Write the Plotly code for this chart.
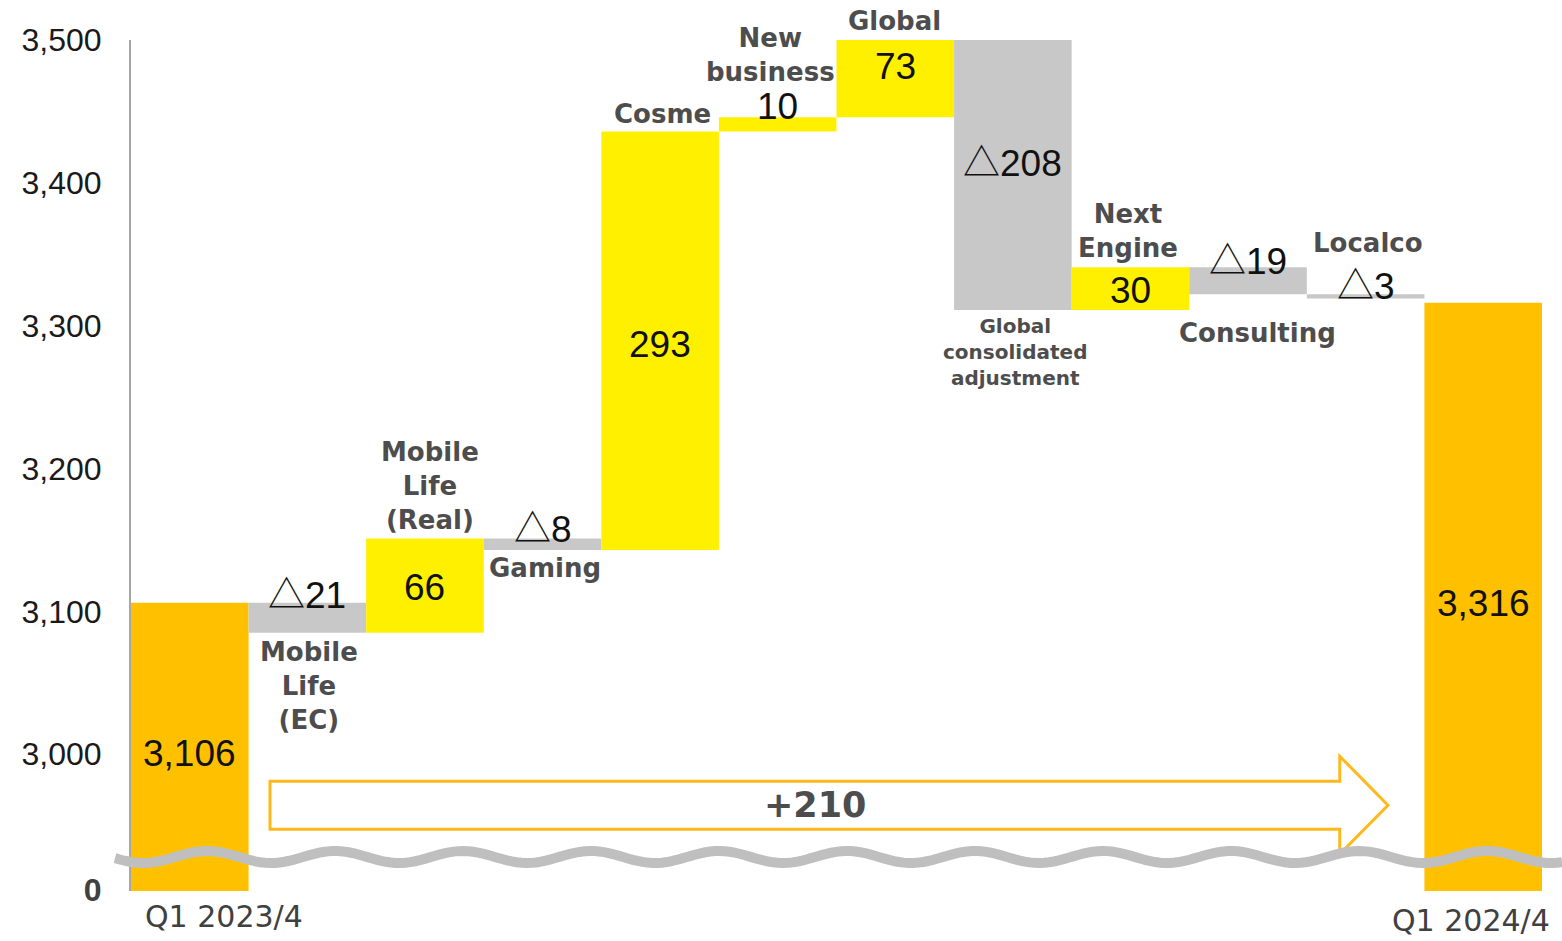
import numpy as np
import plotly.graph_objects as go

# ---------------- data ----------------
categories = ["Q1 2023/4", "Mobile Life (EC)", "Mobile Life (Real)", "Gaming", "Cosme",
              "New business", "Global", "Global consolidated adjustment", "Next Engine",
              "Consulting", "Localco", "Q1 2024/4"]
measures = ["absolute"] + ["relative"] * 10 + ["absolute"]
values = [3106, -21, 66, -8, 293, 10, 73, -208, 30, -19, -3, 3316]
value_labels = ["3,106", "△21", "66", "△8", "293", "10", "73", "△208", "30", "△19", "△3", "3,316"]
cat_labels = [None, "Mobile<br>Life<br>(EC)", "Mobile<br>Life<br>(Real)", "Gaming", "Cosme",
              "New<br>business", "Global", "Global<br>consolidated<br>adjustment",
              "Next<br>Engine", "Consulting", "Localco", None]
x_tick_labels = ["Q1 2023/4", "Q1 2024/4"]
y_tick_values = [3000, 3100, 3200, 3300, 3400, 3500]
y_tick_labels = ["3,000", "3,100", "3,200", "3,300", "3,400", "3,500"]
total_change_label = "+210"

# ---------------- style ----------------
Y_MAX = 3500
BREAK_BASE = 2905           # where the broken axis shows "0"
Y_MIN = 2904.3
C_UP, C_DOWN, C_TOTAL = "#FFF000", "#C8C8C8", "#FFC000"
TXT_GREY = "#4D4D4D"
NUM_FONT = dict(family="Liberation Sans, Arial", size=37, color="#111111")
CAT_FONT = dict(family="DejaVu Sans", size=26, color=TXT_GREY)
TRI = '<span style="font-family:Noto Sans CJK JP">△</span>'
value_pos = ["inside", "above", "inside", "above", "inside", "above", "inside", "inside",
             "inside", "above", "above", "inside"]
value_shift = [-7, 11, -2, 13, -4, 11, 12, 15, -2, 9, 11, -7]
cat_pos = [None, "below", "above", "below", "above", "above", "above", "below", "above",
           "below", "above", None]
cat_xshift = [0, 2, 5, 2, 2, -7, -1, 2, -2, 9, 2, 0]
cat_yshift = [0, -2, 2, -1, 0, -2, 2, -2, 2, -22, 4, 0]
cat_size = [26, 26, 26, 26, 26, 26, 26, 20, 26, 26, 26, 26]

x = list(range(len(categories)))

# geometry of bars (for label placement)
bottoms, tops = [], []
running = 0
for m, v in zip(measures, values):
    if m == "absolute":
        b, t = 0, v
        running = v
    else:
        b, t = running, running + v
        running += v
    bottoms.append(min(b, t))
    tops.append(max(b, t))

fig = go.Figure(go.Waterfall(
    x=x, y=values, measure=measures,
    increasing=dict(marker=dict(color=C_UP)),
    decreasing=dict(marker=dict(color=C_DOWN)),
    totals=dict(marker=dict(color=C_TOTAL)),
    connector=dict(visible=False),
    width=[1.0] * len(x),
    textinfo="none", hoverinfo="skip",
))

annotations = []
for i in x:
    vis_top = min(tops[i], Y_MAX)
    vis_bot = max(bottoms[i], Y_MIN)
    lbl = value_labels[i].replace("△", TRI)
    # value label
    if value_pos[i] == "inside":
        annotations.append(dict(x=i, y=(vis_top + vis_bot) / 2, text=lbl,
                                showarrow=False, font=NUM_FONT, yshift=value_shift[i],
                                xanchor="center", yanchor="middle"))
    else:
        annotations.append(dict(x=i, y=vis_top, text=lbl, showarrow=False,
                                font=NUM_FONT, yshift=value_shift[i],
                                xanchor="center", yanchor="middle"))
    # category label
    if cat_labels[i]:
        f = dict(CAT_FONT, size=cat_size[i])
        if cat_pos[i] == "above":
            extra = 30 if value_pos[i] == "above" else 0
            annotations.append(dict(x=i, y=vis_top, text=f"<b>{cat_labels[i]}</b>",
                                    showarrow=False, font=f, xanchor="center",
                                    yanchor="bottom", xshift=cat_xshift[i],
                                    yshift=cat_yshift[i] + extra))
        else:
            annotations.append(dict(x=i, y=vis_bot, text=f"<b>{cat_labels[i]}</b>",
                                    showarrow=False, font=f, xanchor="center",
                                    yanchor="top", xshift=cat_xshift[i],
                                    yshift=cat_yshift[i]))

# x tick labels for the two totals
annotations.append(dict(x=0, y=0, yref="paper", text=x_tick_labels[0], showarrow=False,
                        font=dict(family="DejaVu Sans", size=30, color="#404040"),
                        xanchor="center", yanchor="top", xshift=34, yshift=-6))
annotations.append(dict(x=len(x) - 1, y=0, yref="paper", text=x_tick_labels[1],
                        showarrow=False,
                        font=dict(family="DejaVu Sans", size=30, color="#404040"),
                        xanchor="center", yanchor="top", xshift=-12, yshift=-10))

# big arrow (+210)
ax0, ax_neck, ax_tip = 0.682, 9.78, 10.19
ay_bt, ay_bb, ay_ht, ay_hb = 2981.1, 2947.5, 2998.6, 2930.1
ay_mid = (ay_bt + ay_bb) / 2
arrow_path = (f"M {ax0},{ay_bt} L {ax_neck},{ay_bt} L {ax_neck},{ay_ht} L {ax_tip},{ay_mid} "
              f"L {ax_neck},{ay_hb} L {ax_neck},{ay_bb} L {ax0},{ay_bb} Z")
shapes = [dict(type="path", path=arrow_path, xref="x", yref="y",
               line=dict(color="#FFB81C", width=3), fillcolor="white", layer="above")]
annotations.append(dict(x=(ax0 + ax_neck) / 2 + 0.09, y=ay_mid, text=f"<b>{total_change_label}</b>",
                        showarrow=False,
                        font=dict(family="DejaVu Sans", size=35, color=TXT_GREY),
                        xanchor="center", yanchor="middle"))

# wavy break line (decoration, paper coords)
PLOT_L, PLOT_W, PLOT_B, PLOT_H = 131, 1411, 891, 851
px = np.linspace(115, 1562, 300)
py = 857 + 6 * np.cos(2 * np.pi * (px - 207) / 128.0) * -1
pts = [((xx - PLOT_L) / PLOT_W, (PLOT_B - yy) / PLOT_H) for xx, yy in zip(px, py)]
wave = "M " + " L ".join(f"{a:.5f},{b:.5f}" for a, b in pts)
shapes.append(dict(type="path", path=wave, xref="paper", yref="paper",
                   line=dict(color="#BFBFBF", width=10), layer="above"))

fig.update_layout(
    width=1562, height=941,
    margin=dict(l=131, r=20, t=40, b=50),
    paper_bgcolor="white", plot_bgcolor="white",
    showlegend=False,
    annotations=annotations, shapes=shapes,
    xaxis=dict(range=[-0.5, len(x) - 0.5], showticklabels=False, showgrid=False,
               zeroline=False, showline=False, fixedrange=True),
    yaxis=dict(range=[Y_MIN, Y_MAX],
               tickvals=[BREAK_BASE] + y_tick_values,
               ticktext=['<span style="color:#404040"><b>0</b></span>'] + y_tick_labels,
               tickfont=dict(family="Liberation Sans, Arial", size=32, color="#1A1A1A"),
               showgrid=False, zeroline=False, showline=True, linecolor="#A6A6A6",
               linewidth=2, ticks="", ticklabelstandoff=21, fixedrange=True),
)

fig.write_html("out.html")
